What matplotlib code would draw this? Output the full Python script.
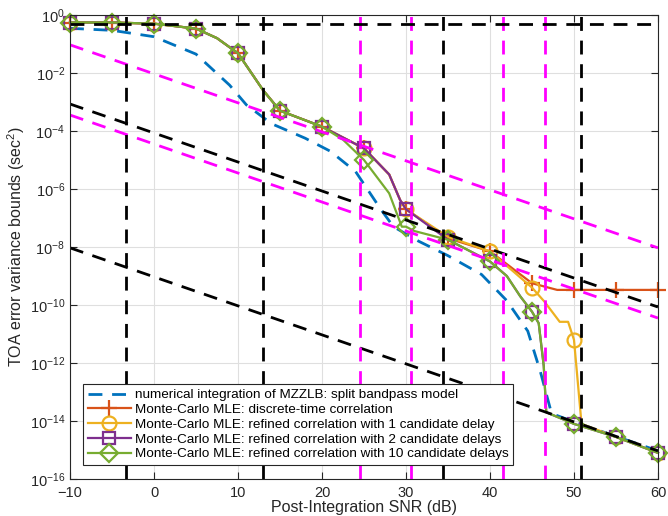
import numpy as np
import matplotlib
matplotlib.use("Agg")
import matplotlib.pyplot as plt

plt.rcParams["font.family"] = ["Liberation Sans", "DejaVu Sans"]
plt.rcParams["mathtext.default"] = "regular"

# numerical integration of MZZLB (log10 of variance)
snr_zz = [-10, -5, 0, 5, 9, 11, 14, 18, 21, 24, 27, 28.5, 31.5, 35, 39, 42, 44.5, 46, 47.2, 47.6, 50, 55, 60]
log_zz = [-0.46, -0.53, -0.75, -1.35, -2.42, -3.1, -3.75, -4.25, -4.7, -5.4, -6.7, -7.3, -7.8, -8.3, -8.95,
          -9.85, -10.9, -12.3, -13.6, -13.77, -14.03, -14.53, -15.03]

# Monte-Carlo MLE: discrete-time correlation
snr_dt = [-10, -5, 0, 5, 7.5, 10, 13, 15, 20, 25, 28, 29.3, 30, 35, 40, 45, 48, 50, 55, 60]
log_dt = [-0.26, -0.26, -0.3, -0.47, -0.8, -1.32, -2.6, -3.3, -3.85, -4.6, -5.5, -6.38, -6.7, -7.7, -8.15,
          -9.25, -9.48, -9.48, -9.48, -9.48]

# refined correlation with 1 candidate delay
snr_r1 = [-10, -5, 0, 5, 7.5, 10, 13, 15, 20, 25, 28, 29.3, 30, 35, 40, 45, 46.5, 48.3, 49.3, 50, 50.9, 55, 60]
log_r1 = [-0.26, -0.26, -0.3, -0.47, -0.8, -1.32, -2.6, -3.3, -3.85, -4.6, -5.5, -6.38, -6.7, -7.65, -8.15,
          -9.4, -9.89, -10.58, -10.58, -11.2, -14.1, -14.55, -15.1]

# refined correlation with 2 candidate delays
snr_r2 = [-10, -5, 0, 5, 7.5, 10, 13, 15, 20, 25, 28, 29.3, 30, 35, 40, 42, 43.6, 45, 45.8, 46.4, 46.7, 50, 55, 60]
log_r2 = [-0.26, -0.26, -0.3, -0.47, -0.8, -1.32, -2.6, -3.3, -3.85, -4.6, -5.5, -6.38, -6.7, -7.75, -8.5,
          -9.0, -9.7, -10.23, -10.63, -12.1, -13.7, -14.1, -14.55, -15.1]

# refined correlation with 10 candidate delays
snr_r10 = [-10, -5, 0, 5, 7.5, 10, 13, 15, 20, 22.5, 25, 28, 29.5, 30, 31, 35, 40, 42, 43.6, 45, 45.8, 46.4, 46.7, 50, 55, 60]
log_r10 = [-0.26, -0.26, -0.3, -0.47, -0.8, -1.32, -2.6, -3.3, -3.85, -4.3, -5.0, -6.15, -7.3, -7.3, -7.45, -7.75,
           -8.5, -9.0, -9.7, -10.23, -10.63, -12.1, -13.7, -14.1, -14.55, -15.1]

# reference bounds: thresholds and asymptotes
snr_lim = [-10, 60]
black_diag = [[-3.07, -10.07], [-8.03, -15.03]]
magenta_diag = [[-1.03, -8.03], [-3.45, -10.45]]
black_vert = [-3.3, 13.0, 34.4, 50.8]
magenta_vert = [24.5, 30.6, 41.5, 46.5]
black_horiz = 0.5

c_blue = "#0072BD"
c_red = "#D95319"
c_yel = "#EDB120"
c_pur = "#7E2F8E"
c_grn = "#77AC30"


def marks(x):
    return [i for i, v in enumerate(x) if v % 5 == 0]


fig = plt.figure(figsize=(6.68, 5.16), dpi=100)
ax = fig.add_axes([0.1048, 0.0717, 0.8802, 0.8993])

dash = (0, (5, 3.5))
ax.plot(snr_zz, 10.0 ** np.array(log_zz), color=c_blue, lw=2, linestyle=dash,
        label="numerical integration of MZZLB: split bandpass model")
ax.plot(snr_dt, 10.0 ** np.array(log_dt), color=c_red, lw=1.6, marker="+", ms=12, mew=1.6, clip_on=False,
        markevery=marks(snr_dt), label="Monte-Carlo MLE: discrete-time correlation")
ax.plot(snr_r1, 10.0 ** np.array(log_r1), color=c_yel, lw=1.6, marker="o", ms=10, mew=1.6, mfc="none",
        clip_on=False, markevery=marks(snr_r1), label="Monte-Carlo MLE: refined correlation with 1 candidate delay")
ax.plot(snr_r2, 10.0 ** np.array(log_r2), color=c_pur, lw=1.6, marker="s", ms=9, mew=1.6, mfc="none",
        clip_on=False, markevery=marks(snr_r2), label="Monte-Carlo MLE: refined correlation with 2 candidate delays")
ax.plot(snr_r10, 10.0 ** np.array(log_r10), color=c_grn, lw=1.6, marker="D", ms=9, mew=1.6, mfc="none",
        clip_on=False, markevery=marks(snr_r10), label="Monte-Carlo MLE: refined correlation with 10 candidate delays")

for d in black_diag:
    ax.plot(snr_lim, 10.0 ** np.array(d), color="k", lw=2, linestyle=dash)
for d in magenta_diag:
    ax.plot(snr_lim, 10.0 ** np.array(d), color="#FF00FF", lw=2, linestyle=dash)
for v in black_vert:
    ax.axvline(v, color="k", lw=2, linestyle=dash)
for v in magenta_vert:
    ax.axvline(v, color="#FF00FF", lw=2, linestyle=dash)
ax.axhline(black_horiz, color="k", lw=2, linestyle=dash)

ax.set_yscale("log")
ax.set_xlim(-10, 60)
ax.set_ylim(1e-16, 1)
ax.set_xticks(np.arange(-10, 61, 10))
ax.set_yticks([10.0 ** k for k in range(-16, 1, 2)])
ax.minorticks_off()
ax.grid(True, color="#DFDFDF", lw=0.8)
ax.set_axisbelow(True)
ax.tick_params(direction="in", top=True, right=True, labelsize=10.5, colors="#262626", length=5)
ax.tick_params(axis="x", pad=5)
for s in ax.spines.values():
    s.set_color("#262626")
ax.set_xlabel("Post-Integration SNR (dB)", fontsize=11.5, color="#262626", labelpad=0)
ax.set_ylabel("TOA error variance bounds (sec$^2$)", fontsize=11.5, color="#262626", labelpad=2)

leg = ax.legend(loc="lower left", bbox_to_anchor=(0.0221, 0.030), borderaxespad=0, fontsize=9.7,
                fancybox=False, framealpha=1, edgecolor="#262626", handlelength=3.2, labelspacing=0.17,
                borderpad=0.35, handletextpad=0.3)
leg.get_frame().set_linewidth(0.8)

fig.savefig("out.png", dpi=100)
